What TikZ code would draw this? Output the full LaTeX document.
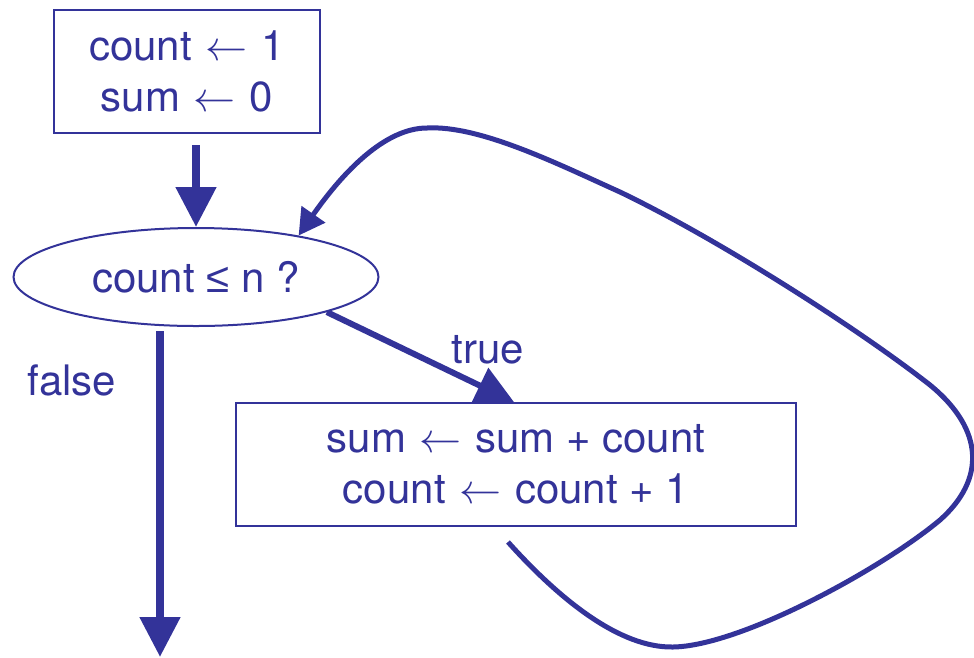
\RequirePackage{fix-cm}
\documentclass[tikz,border=0pt]{standalone}
\usepackage{fontspec}
\setmainfont{TeX Gyre Heros}
\newfontfamily\symfont{Liberation Sans}
\usetikzlibrary{arrows.meta,shapes.geometric,calc}
\definecolor{ink}{RGB}{51,51,153}
\newcommand\getsarrow{\hspace{2pt}$\leftarrow$\hspace{2pt}}
\begin{document}
\begin{tikzpicture}[x=1pt,y=-1pt,
  every node/.style={text=ink,font=\fontsize{42}{51}\selectfont,inner sep=0pt},
  stepbox/.style={draw=ink,line width=2pt,fill=white,align=center,minimum height=123pt},
  decision/.style={ellipse,draw=ink,line width=2pt,fill=white,minimum width=365pt,minimum height=98pt},
  bigarrow/.style={draw=ink,line width=8pt,-{Triangle[length=40pt,width=39pt]}},
  truearrow/.style={draw=ink,line width=6pt,-{Triangle[length=38pt,width=38pt]}},
  looparrow/.style={draw=ink,line width=5pt,-{Triangle[length=26pt,width=28pt]}}]
\useasboundingbox (0,0) rectangle (974,657);
\coordinate (falseend) at (160,657);
\coordinate (ellc) at (196,277);
\coordinate (boxc) at (516,464.5);
% true connector drawn beneath the nodes
\path (ellc) node[decision,draw=none,fill=none] (ellghost) {\phantom{x}};
\path (boxc) node[stepbox,draw=none,fill=none,minimum width=560pt] (boxghost) {};
\draw[truearrow] (ellghost.-15.3) -- ([xshift=-2pt]boxghost.north);
% nodes
\node[stepbox,minimum width=266pt] (init) at (187,71.5) {count \getsarrow{} 1\\sum \getsarrow{} 0};
\node[decision] (ell) at (ellc) {count {\symfont ≤} n ?};
\node[stepbox,minimum width=560pt] (body) at (boxc) {sum \getsarrow{} sum + count\\count \getsarrow{} count + 1};
\node (falselbl) at (72,380) {false};
\node (truelbl) at (488,350) {true};
% other connectors
\draw[bigarrow] ([yshift=-11pt]init.south -| ell.north) -- (ell.north);
\draw[bigarrow] ($(ell.south)+(-36,4)$) -- (falseend);
\draw[looparrow] ($(body.south)+(-8,15)$)
  .. controls (560,600) and (620,648) .. (673,647)
  .. controls (740,646) and (880,570) .. (940,520)
  .. controls (985,480) and (985,430) .. (930,385)
  .. controls (860,330) and (720,240) .. (620,192)
  .. controls (560,165) and (480,125) .. (427,128)
  .. controls (385,128) and (343,172) .. (ell.22.4);
\end{tikzpicture}
\end{document}
